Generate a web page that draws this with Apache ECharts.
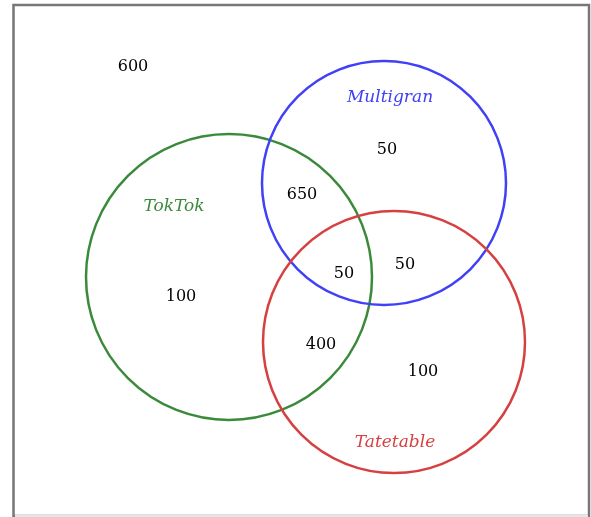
<!DOCTYPE html>
<html><head><meta charset="utf-8">
<script src="https://cdn.jsdelivr.net/npm/echarts@6/dist/echarts.min.js"></script>
<style>html,body{margin:0;padding:0;background:#fff}#c{width:591px;height:517px}</style>
</head><body><div id="c"></div>
<script>
// Sets: name, center x, center y, radius (chart units), colour
var setNames = ['TokTok', 'Multigran', 'Tatetable'];
var setCx = [229, 384, 394];
var setCy = [277, 183, 342];
var setR = [143, 122, 131];
var setColors = ['#3b8a3b', '#4040f8', '#d64040'];
var setLabelX = [174, 390, 395];
var setLabelY = [207, 98, 443];

// Region counts
var regionValues = ['600', '100', '50', '100', '650', '400', '50', '50'];
var regionX = [133, 181, 387, 423, 302, 321, 405, 344];
var regionY = [67, 297, 150, 372, 195, 345, 265, 274];

var chart = echarts.init(document.getElementById('c'), null, {renderer: 'canvas'});
var circles = setNames.map(function (n, i) { return [setCx[i], setCy[i], setR[i], i]; });
var regions = regionValues.map(function (v, i) { return [regionX[i], regionY[i], v]; });
var setLabels = setNames.map(function (n, i) { return [setLabelX[i], setLabelY[i], n, i]; });

chart.setOption({
  animation: false,
  backgroundColor: '#fff',
  grid: {left: 0, top: 0, right: 0, bottom: 0},
  xAxis: {type: 'value', min: 0, max: 591, show: false},
  yAxis: {type: 'value', min: 0, max: 517, inverse: true, show: false},
  graphic: [
    {type: 'rect', shape: {x: 13.5, y: 5, width: 575.5, height: 511}, style: {fill: 'none', stroke: '#777', lineWidth: 2.5}, z: 10},
    {type: 'line', shape: {x1: 15, y1: 516, x2: 588, y2: 516}, style: {stroke: '#e6e6e6', lineWidth: 2}, z: 11}
  ],
  series: [
    {
      type: 'custom',
      data: circles,
      renderItem: function (params, api) {
        var c = api.coord([api.value(0), api.value(1)]);
        var r = api.size([api.value(2), 0])[0];
        return {type: 'circle', shape: {cx: c[0], cy: c[1], r: r},
          style: {fill: 'none', stroke: setColors[api.value(3)], lineWidth: 2.5}};
      },
      silent: true
    },
    {
      type: 'custom',
      data: regions,
      dimensions: ['x', 'y', {name: 'v', type: 'ordinal'}],
      renderItem: function (params, api) {
        var c = api.coord([api.value(0), api.value(1)]);
        return {type: 'text', x: c[0], y: c[1],
          style: {text: regionValues[params.dataIndex], align: 'center', verticalAlign: 'middle',
            font: '16px "DejaVu Serif"', fill: '#000'}};
      },
      silent: true
    },
    {
      type: 'custom',
      data: setLabels,
      dimensions: ['x', 'y', {name: 'n', type: 'ordinal'}, 'i'],
      renderItem: function (params, api) {
        var c = api.coord([api.value(0), api.value(1)]);
        var i = params.dataIndex;
        return {type: 'text', x: c[0], y: c[1],
          style: {text: setNames[i], align: 'center', verticalAlign: 'middle',
            font: 'italic 17px "DejaVu Serif"', fill: setColors[i]}};
      },
      silent: true
    }
  ]
});
</script></body></html>
